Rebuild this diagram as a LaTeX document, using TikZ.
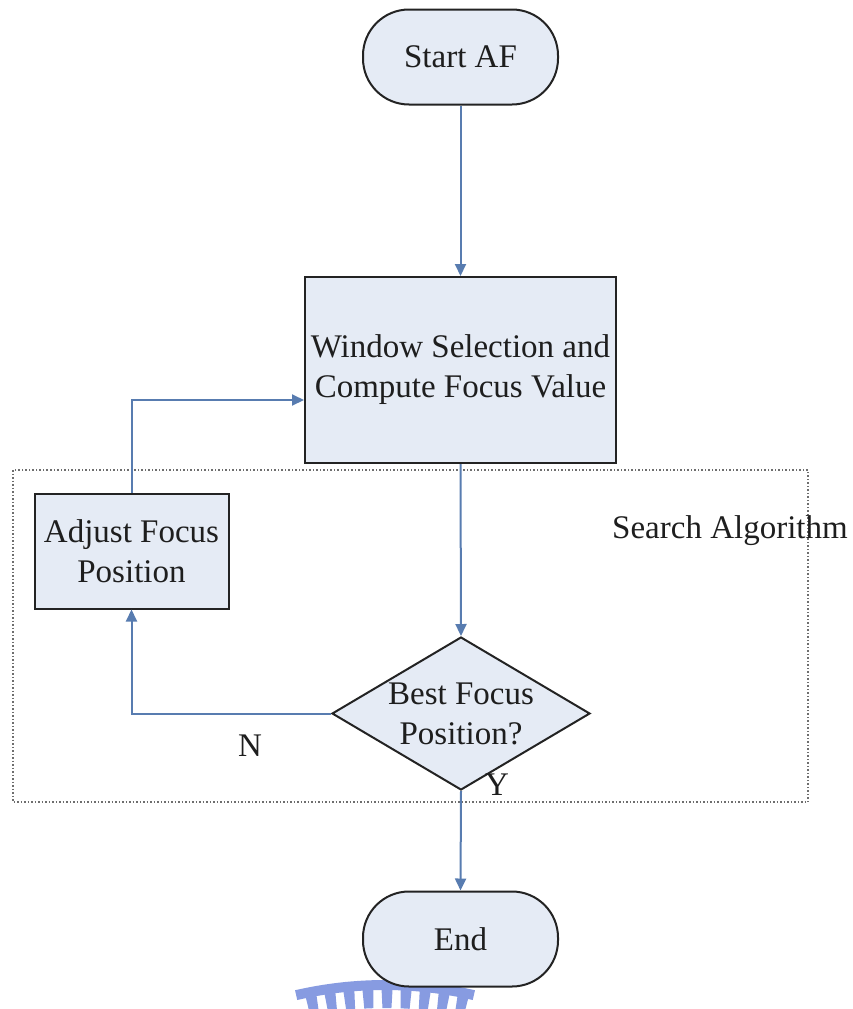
\documentclass[tikz,border=0pt]{standalone}
\usepackage{fontspec}
\setmainfont{Liberation Serif}
\usetikzlibrary{shapes.geometric,arrows.meta,calc}
\definecolor{boxfill}{RGB}{229,235,245}
\definecolor{boxline}{RGB}{35,35,35}
\definecolor{flow}{RGB}{88,124,176}
\definecolor{frame}{RGB}{110,110,110}
\definecolor{seal}{RGB}{135,155,225}
\definecolor{ink}{RGB}{30,30,30}
\begin{document}
\begin{tikzpicture}[x=1pt,y=-1pt,
  every node/.style={font=\fontsize{33}{40}\selectfont, text=ink},
  terminal/.style={draw=boxline, line width=2pt, fill=boxfill, rectangle,
    rounded corners=46pt, minimum width=195pt, minimum height=95pt, inner sep=0pt},
  process/.style={draw=boxline, line width=2pt, fill=boxfill, rectangle,
    inner sep=0pt, align=center},
  decision/.style={draw=boxline, line width=2pt, fill=boxfill, diamond,
    minimum width=258pt, minimum height=153pt, inner sep=0pt},
  flowarrow/.style={draw=flow, line width=2pt, -{Triangle[length=12pt,width=11pt]}},
  plain/.style={inner sep=0pt, align=center}]
\useasboundingbox (0,0) rectangle (852,1009);

% emblem at the foot of the page, behind the end terminal
\begin{scope}[shift={(385,1380)}]
  \fill[seal] (-103:400) arc[start angle=-103, end angle=-77, radius=400]
    -- (-77:390) arc[start angle=-77, end angle=-103, radius=390] -- cycle;
  \foreach \a in {-101.5,-98.7,...,-77}{
    \fill[seal, rotate=\a+90] (-5.5,-391) -- (5.5,-391) -- (4.5,-372) -- (-4.5,-372) -- cycle;
  }
\end{scope}

% search algorithm region
\draw[frame, line width=1.5pt, dotted] (13,470) rectangle (808,802);
\node[plain] (searchlbl) at (730,531) {Search Algorithm};

% flow chart blocks
\node[terminal] (start) at (460.5,57) {Start AF};
\node[process, minimum width=311pt, minimum height=186pt] (win) at (460.5,370)
  {Window Selection and\\Compute Focus Value};
\node[process, minimum width=194pt, minimum height=115pt] (adj) at (131.5,551)
  {Adjust Focus\\Position};
\node[decision] (dec) at (461,713.5) {};
\node[plain] (dect) at (dec.center) {Best Focus\\Position?};
\node[terminal] (end) at (460.5,939) {End};

% connectors
\coordinate (winin) at ($(win.west)+(0,30)$);
\draw[flowarrow] (start.south) -- (win.north);
\draw[flowarrow] (win.south) -- (dec.north);
\draw[flowarrow] (dec.west) -| (adj.south);
\draw[flowarrow] (adj.north) |- (winin);
\draw[flowarrow] (dec.south) -- (end.north);

% branch labels
\node[plain] (nlbl) at (250,746) {N};
\node[plain] (ylbl) at (497,785) {Y};
\end{tikzpicture}
\end{document}
